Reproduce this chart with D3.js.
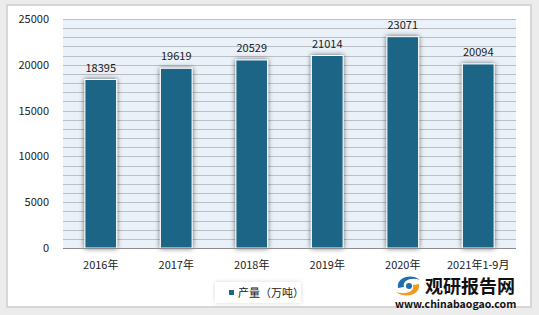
<!DOCTYPE html>
<html>
<head>
<meta charset="utf-8">
<script src="https://cdn.jsdelivr.net/npm/d3@7"></script>
<style>
  body { margin: 0; background: #ececec; }
  svg { display: block; font-family: "Noto Sans CJK SC", "DejaVu Sans", sans-serif; }
</style>
</head>
<body>
<div id="rootDiv"></div>
<script>
const width = 539
const height = 315

const categories = ["2016年", "2017年", "2018年", "2019年", "2020年", "2021年1-9月"]
const values = [18395, 19619, 20529, 21014, 23071, 20094]
const yTicks = [0, 5000, 10000, 15000, 20000, 25000]
const seriesName = "产量（万吨）"

const barColor = "#1b6587"
const margin = { left: 63, right: 23, top: 19, bottom: 67 }

const svg = d3.select("#rootDiv")
    .append("svg")
    .attr("width", width)
    .attr("height", height)

const defs = svg.append("defs")
const shadow = defs.append("filter").attr("id", "shadow")
    .attr("x", "-40%").attr("y", "-10%").attr("width", "180%").attr("height", "120%")
shadow.append("feDropShadow")
    .attr("dx", 0).attr("dy", 0).attr("stdDeviation", 2.5)
    .attr("flood-color", "#000").attr("flood-opacity", 0.6)

const boxShadow = defs.append("filter").attr("id", "boxShadow")
    .attr("x", "-20%").attr("y", "-30%").attr("width", "140%").attr("height", "160%")
boxShadow.append("feDropShadow")
    .attr("dx", 0).attr("dy", 0).attr("stdDeviation", 2)
    .attr("flood-color", "#000").attr("flood-opacity", 0.15)

// panel
svg.append("rect")
    .attr("x", 7).attr("y", 5)
    .attr("width", 524).attr("height", 302)
    .attr("fill", "#fff")
    .attr("stroke", "#d6d6d6")
    .attr("stroke-width", 2)

const x = d3.scaleBand()
    .domain(categories)
    .range([margin.left, width - margin.right])
    .paddingInner(0.58)
    .paddingOuter(0.29)

const y = d3.scaleLinear()
    .domain([0, 25000])
    .range([height - margin.bottom, margin.top])

// plot background
svg.append("rect")
    .attr("x", margin.left).attr("y", margin.top)
    .attr("width", width - margin.right - margin.left)
    .attr("height", y(0) - margin.top)
    .attr("fill", "#eaf1f8")

// grid lines every 1000
svg.append("g")
    .selectAll("line")
    .data(d3.range(1000, 25001, 1000))
    .join("line")
    .attr("x1", margin.left).attr("x2", width - margin.right)
    .attr("y1", d => Math.round(y(d)) + 0.5).attr("y2", d => Math.round(y(d)) + 0.5)
    .attr("stroke", "#bcbfc3")
    .attr("stroke-width", 1)

// y labels
svg.append("g")
    .selectAll("text")
    .data(yTicks)
    .join("text")
    .attr("x", 49)
    .attr("y", d => y(d) + 4)
    .attr("text-anchor", "end")
    .attr("font-size", 11)
    .attr("fill", "#222")
    .text(d => d)

// bars
svg.append("g")
    .selectAll("rect")
    .data(values)
    .join("rect")
    .attr("x", (d, i) => x(categories[i]))
    .attr("y", d => y(d))
    .attr("width", x.bandwidth())
    .attr("height", d => y(0) - y(d))
    .attr("fill", barColor)
    .attr("stroke", "#fff")
    .attr("stroke-width", 1)
    .attr("filter", "url(#shadow)")

// axis line
svg.append("line")
    .attr("x1", margin.left).attr("x2", width - margin.right)
    .attr("y1", y(0) + 0.5).attr("y2", y(0) + 0.5)
    .attr("stroke", "#8c8c8c")

// value labels
svg.append("g")
    .selectAll("text")
    .data(values)
    .join("text")
    .attr("x", (d, i) => x(categories[i]) + x.bandwidth() / 2)
    .attr("y", d => y(d) - 8)
    .attr("text-anchor", "middle")
    .attr("font-size", 11)
    .attr("fill", "#222")
    .text(d => d)

// x labels
svg.append("g")
    .selectAll("text")
    .data(categories)
    .join("text")
    .attr("x", d => x(d) + x.bandwidth() / 2)
    .attr("y", 269)
    .attr("text-anchor", "middle")
    .attr("font-size", 11)
    .attr("fill", "#222")
    .text(d => d)

// legend
const legend = svg.append("g")
legend.append("rect")
    .attr("x", 215).attr("y", 282)
    .attr("width", 86).attr("height", 21)
    .attr("fill", "#fff")
    .attr("filter", "url(#boxShadow)")
legend.append("rect")
    .attr("x", 229).attr("y", 290)
    .attr("width", 5).attr("height", 5)
    .attr("fill", barColor)
legend.append("text")
    .attr("x", 238).attr("y", 297)
    .attr("font-size", 11)
    .attr("fill", "#222")
    .text(seriesName)

// watermark logo
const logo = svg.append("g")
logo.append("path")
    .attr("d", "M398,288 C396,277 412,273 420,280 C412,277 402,280 404,287 Z")
    .attr("fill", "#1e6fa8")
logo.append("path")
    .attr("d", "M419,284 C421,295 405,299 396,292 C405,295 415,292 413,285 Z")
    .attr("fill", "#f29a1f")
logo.append("circle")
    .attr("cx", 409).attr("cy", 286).attr("r", 3)
    .attr("fill", "#1e6fa8")
logo.append("text")
    .attr("x", 425).attr("y", 293)
    .attr("font-size", 18)
    .attr("font-weight", "bold")
    .attr("fill", "#111")
    .text("观研报告网")
logo.append("text")
    .attr("x", 395).attr("y", 308)
    .attr("font-size", 10.5)
    .attr("font-weight", "bold")
    .attr("fill", "#111")
    .text("www.chinabaogao.com")
</script>
</body>
</html>
